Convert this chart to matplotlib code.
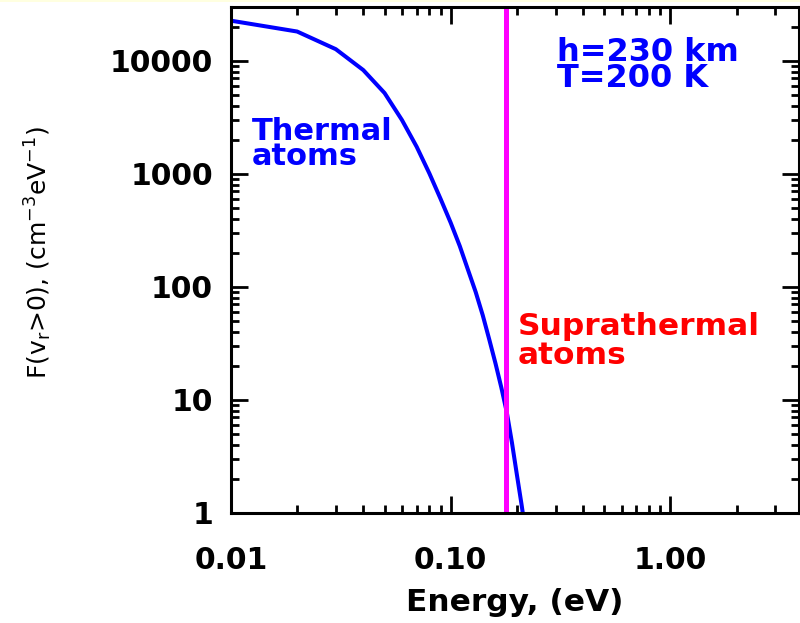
import numpy as np
import matplotlib
matplotlib.use("Agg")
import matplotlib.pyplot as plt
from matplotlib.patches import Rectangle
from matplotlib.ticker import FixedLocator, FixedFormatter, LogLocator, NullFormatter

# energy grid (eV) and distribution
energy = [0.01, 0.02, 0.03, 0.04, 0.05, 0.06, 0.07, 0.08, 0.09, 0.10, 0.11,
          0.12, 0.13, 0.14, 0.15, 0.16, 0.17, 0.18, 0.19, 0.20, 0.21, 0.22]
flux = [22700, 18200, 12700, 8300, 5200, 3000, 1740, 1010, 600, 370, 230,
        141, 90, 56, 34, 21, 12.9, 7.8, 4.2, 2.2, 1.2, 0.65]

e_split = 0.178  # thermal / suprathermal boundary

x_ticks = [0.01, 0.1, 1.0]
x_ticklabels = ["0.01", "0.10", "1.00"]
y_ticks = [1, 10, 100, 1000, 10000]
y_ticklabels = ["1", "10", "100", "1000", "10000"]

plt.rcParams["font.family"] = ["DejaVu Sans"]
plt.rcParams["mathtext.fontset"] = "dejavusans"
plt.rcParams["mathtext.default"] = "regular"

fig = plt.figure(figsize=(8, 6.23), dpi=100)
# thin pale strip along the top edge
fig.patches.append(Rectangle((0, 1 - 2 / 623), 1, 2 / 623, transform=fig.transFigure,
                             facecolor="#ffffe0", edgecolor="none"))
ax = fig.add_axes([0.28875, 0.17657, 0.71, 0.8122])

ax.plot(energy, flux, color="#0000ff", lw=2.9)
ax.axvline(e_split, color="#ff00ff", lw=3.6)

ax.set_xscale("log")
ax.set_yscale("log")
ax.set_xlim(0.01, 3.85)
ax.set_ylim(1, 30000)

ax.xaxis.set_major_locator(FixedLocator(x_ticks))
ax.xaxis.set_major_formatter(FixedFormatter(x_ticklabels))
ax.xaxis.set_minor_locator(LogLocator(subs=np.arange(2, 10)))
ax.xaxis.set_minor_formatter(NullFormatter())
ax.yaxis.set_major_locator(FixedLocator(y_ticks))
ax.yaxis.set_major_formatter(FixedFormatter(y_ticklabels))
ax.yaxis.set_minor_locator(LogLocator(subs=np.arange(2, 10)))
ax.yaxis.set_minor_formatter(NullFormatter())

ax.tick_params(which="both", direction="in", top=True, right=True, width=2, labelsize=21.5)
ax.tick_params(which="major", length=12)
ax.tick_params(which="minor", length=6)
ax.tick_params(axis="x", pad=24)
ax.tick_params(axis="y", pad=13)
for lab in ax.get_xticklabels() + ax.get_yticklabels():
    lab.set_fontweight("bold")
for s in ax.spines.values():
    s.set_linewidth(2.2)

ax.set_xlabel("Energy, (eV)", fontsize=22.5, fontweight="bold", labelpad=9)
fig.text(0.048, 0.5955, r"F(v$_r$>0), (cm$^{-3}$eV$^{-1}$)", rotation=90,
         ha="center", va="center", fontsize=18)

# multi-line labels: y is the baseline of the last line
ax.text(0.037, 0.688, "Thermal\natoms", transform=ax.transAxes, color="#0000ff",
        fontsize=22, fontweight="bold", va="baseline", linespacing=0.84)
ax.text(0.574, 0.842, "h=230 km\nT=200 K", transform=ax.transAxes, color="#0000ff",
        fontsize=23, fontweight="bold", va="baseline", linespacing=0.77)
ax.text(0.505, 0.294, "Suprathermal\natoms", transform=ax.transAxes, color="#ff0000",
        fontsize=22.5, fontweight="bold", va="baseline", linespacing=1.0)

fig.savefig("out.png", dpi=100)
